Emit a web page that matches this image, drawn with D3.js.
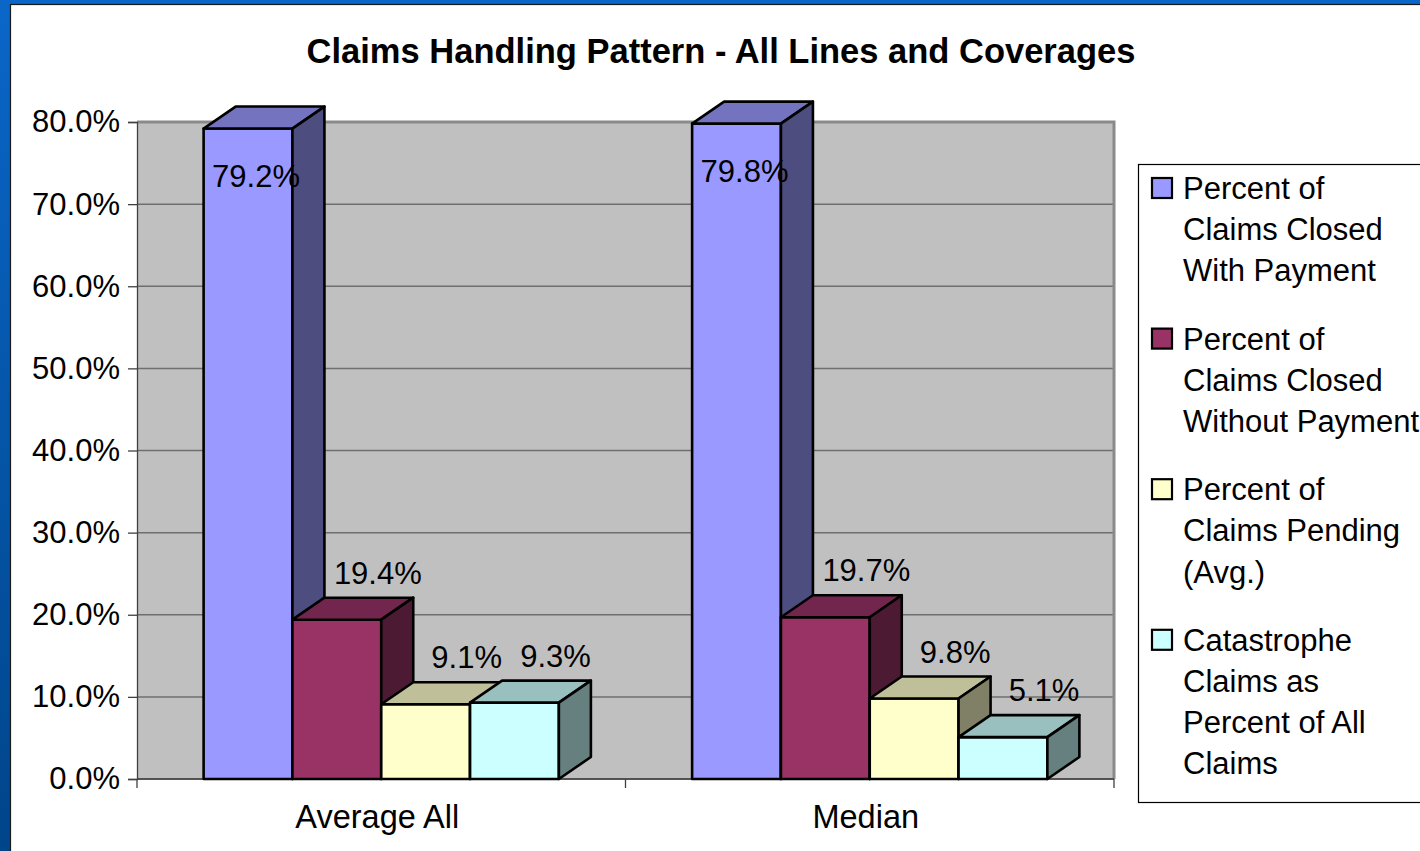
<!DOCTYPE html>
<html>
<head>
<meta charset="utf-8">
<script src="https://cdn.jsdelivr.net/npm/d3@7"></script>
<style>
  html, body { margin: 0; padding: 0; overflow: hidden; background: #fff; }
  svg { display: block; }
  text { font-family: "Liberation Sans", Arial, sans-serif; fill: #000; }
</style>
</head>
<body>
<svg id="chart" width="1420" height="851"></svg>
<script>
// ---- data ----
const categories = ["Average All", "Median"];
const seriesNames = [
  "Percent of Claims Closed With Payment",
  "Percent of Claims Closed Without Payment",
  "Percent of Claims Pending (Avg.)",
  "Catastrophe Claims as Percent of All Claims"
];
const averageAllValues = [79.2, 19.4, 9.1, 9.3];
const medianValues = [79.8, 19.7, 9.8, 5.1];
const yTickValues = [0, 10, 20, 30, 40, 50, 60, 70, 80];
const legendLines = [
  ["Percent of", "Claims Closed", "With Payment"],
  ["Percent of", "Claims Closed", "Without Payment"],
  ["Percent of", "Claims Pending", "(Avg.)"],
  ["Catastrophe", "Claims as", "Percent of All", "Claims"]
];
const titleText = "Claims Handling Pattern - All Lines and Coverages";

// ---- styling ----
const faceColors = [
  { front: "#9999ff", top: "#7373bf", side: "#4d4d80" },
  { front: "#993366", top: "#73264d", side: "#4d1a33" },
  { front: "#ffffcc", top: "#bfbf99", side: "#808066" },
  { front: "#ccffff", top: "#99bfbf", side: "#668080" }
];

const rows = categories.map((c, i) => ({
  category: c,
  values: [averageAllValues, medianValues][i]
}));

const svg = d3.select("#chart");

// slide backdrop
const defs = svg.append("defs");
const grad = defs.append("linearGradient").attr("id", "slideBg")
  .attr("x1", 0).attr("y1", 0).attr("x2", 0).attr("y2", 1);
grad.append("stop").attr("offset", "0%").attr("stop-color", "#0a66c8");
grad.append("stop").attr("offset", "100%").attr("stop-color", "#00458a");
svg.append("rect").attr("width", 1420).attr("height", 851).attr("fill", "url(#slideBg)");

// chart area
svg.append("rect")
  .attr("x", 10.5).attr("y", 4.5).attr("width", 1420).attr("height", 860)
  .attr("fill", "#ffffff").attr("stroke", "#1a1a1a").attr("stroke-width", 1.2);

// plot geometry
const plot = { left: 137, right: 1114, top: 122, bottom: 779 };
const depth = { dx: 32, dy: 22 };

const y = d3.scaleLinear().domain([0, 80]).range([plot.bottom, plot.top]);
const x0 = d3.scaleBand().domain(categories).range([plot.left, plot.right]).padding(0);
const x1 = d3.scaleBand().domain(seriesNames).range([0, x0.bandwidth()])
  .paddingInner(0).paddingOuter(0.75);

// back wall
svg.append("rect")
  .attr("x", plot.left).attr("y", plot.top)
  .attr("width", plot.right - plot.left).attr("height", plot.bottom - plot.top)
  .attr("fill", "#c0c0c0");

// gridlines
svg.append("g").selectAll("line").data(yTickValues).join("line")
  .attr("x1", plot.left).attr("x2", plot.right)
  .attr("y1", d => y(d)).attr("y2", d => y(d))
  .attr("stroke", "#6f6f6f").attr("stroke-width", 1.5);

// wall border (top and right)
svg.append("path")
  .attr("d", `M${plot.left},${plot.top}H${plot.right}V${plot.bottom}`)
  .attr("fill", "none").attr("stroke", "#8a8a8a").attr("stroke-width", 3);

// y axis
const yAxis = d3.axisLeft(y).tickValues(yTickValues)
  .tickFormat(d => d3.format(".1f")(d) + "%").tickSize(9).tickPadding(8);
const gy = svg.append("g").attr("transform", `translate(${plot.left},0)`).call(yAxis);
gy.select(".domain").attr("stroke", "#404040").attr("stroke-width", 1.3);
gy.selectAll(".tick line").attr("stroke", "#404040").attr("stroke-width", 1.3);
gy.selectAll(".tick text")
  .attr("font-size", 31).attr("font-family", "Liberation Sans, Arial, sans-serif")
  .attr("fill", "#000").attr("dy", "0.32em");

// x axis
const gx = svg.append("g").attr("transform", `translate(0,${plot.bottom})`);
gx.append("line").attr("x1", plot.left).attr("x2", plot.right)
  .attr("stroke", "#404040").attr("stroke-width", 1.3);
const boundaries = categories.map(c => x0(c)).concat([plot.right]);
gx.selectAll("line.tick").data(boundaries).join("line").attr("class", "tick")
  .attr("x1", d => d).attr("x2", d => d).attr("y1", 0).attr("y2", 9)
  .attr("stroke", "#404040").attr("stroke-width", 1.3);
gx.selectAll("text").data(categories).join("text")
  .attr("x", d => x0(d) + x0.bandwidth() / 2 - 4)
  .attr("y", 49)
  .attr("text-anchor", "middle").attr("font-size", 32.5)
  .text(d => d);

// 3D columns
const bars = [];
rows.forEach(r => {
  seriesNames.forEach((s, i) => {
    bars.push({ category: r.category, series: s, index: i, value: r.values[i] });
  });
});

const gBars = svg.append("g")
  .attr("stroke", "#000").attr("stroke-width", 2.6).attr("stroke-linejoin", "round");

bars.forEach(b => {
  const xl = x0(b.category) + x1(b.series);
  const w = x1.bandwidth();
  const yt = y(b.value);
  const yb = y(0);
  const c = faceColors[b.index];
  const g = gBars.append("g");
  g.append("rect").attr("x", xl).attr("y", yt).attr("width", w).attr("height", yb - yt)
    .attr("fill", c.front);
  g.append("path")
    .attr("d", `M${xl},${yt}L${xl + depth.dx},${yt - depth.dy}L${xl + w + depth.dx},${yt - depth.dy}L${xl + w},${yt}Z`)
    .attr("fill", c.top);
  g.append("path")
    .attr("d", `M${xl + w},${yt}L${xl + w + depth.dx},${yt - depth.dy}L${xl + w + depth.dx},${yb - depth.dy}L${xl + w},${yb}Z`)
    .attr("fill", c.side);
});

// value labels
svg.append("g").selectAll("text").data(bars).join("text")
  .each(function (b) {
    const cx = x0(b.category) + x1(b.series) + x1.bandwidth() / 2;
    const yt = y(b.value);
    let tx = cx + 41, ty = yt - 36;
    if (ty - 26 < plot.top) { tx = cx + 8; ty = yt + 58; }
    d3.select(this).attr("x", tx).attr("y", ty);
  })
  .attr("text-anchor", "middle").attr("font-size", 31)
  .text(b => d3.format(".1f")(b.value) + "%");

// legend
const legend = svg.append("g");
legend.append("rect")
  .attr("x", 1138.5).attr("y", 164.5).attr("width", 320).attr("height", 638)
  .attr("fill", "#fff").attr("stroke", "#000").attr("stroke-width", 1.2);

const lineH = 41.2;
let baseY = 199;
legendLines.forEach((lines, i) => {
  const item = legend.append("g");
  item.append("rect")
    .attr("x", 1152).attr("y", baseY - 21).attr("width", 20).attr("height", 20)
    .attr("fill", faceColors[i].front).attr("stroke", "#000").attr("stroke-width", 2.2);
  const t = item.append("text").attr("x", 1183).attr("y", baseY).attr("font-size", 31);
  lines.forEach((ln, j) => {
    t.append("tspan").attr("x", 1183).attr("y", baseY + j * lineH).text(ln);
  });
  baseY += lines.length * lineH + 27;
});

// title
svg.append("text")
  .attr("x", 721).attr("y", 63)
  .attr("text-anchor", "middle").attr("font-size", 34.5).attr("font-weight", "bold")
  .text(titleText);
</script>
</body>
</html>
